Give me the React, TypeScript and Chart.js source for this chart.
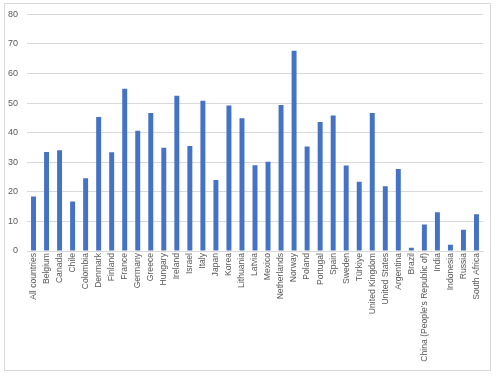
import React, { useEffect, useRef } from "react";
import { Chart, registerables } from "chart.js";

Chart.register(...registerables);

const categories = [
  "All countries", "Belgium", "Canada", "Chile", "Colombia", "Denmark", "Finland", "France",
  "Germany", "Greece", "Hungary", "Ireland", "Israel", "Italy", "Japan", "Korea", "Lithuania",
  "Latvia", "Mexico", "Netherlands", "Norway", "Poland", "Portugal", "Spain", "Sweden",
  "Türkiye", "United Kingdom", "United States", "Argentina", "Brazil",
  "China (People's Republic of)", "India", "Indonesia", "Russia", "South Africa",
];

const values = [
  18.4, 33.5, 34.1, 16.7, 24.6, 45.3, 33.4, 54.9,
  40.7, 46.7, 34.9, 52.5, 35.5, 50.8, 24.0, 49.2, 44.9,
  29.0, 30.2, 49.4, 67.7, 35.3, 43.6, 45.8, 28.9,
  23.4, 46.7, 21.9, 27.7, 1.1,
  9.0, 13.1, 2.1, 7.2, 12.4,
];

const yMin = 0;
const yMax = 80;
const yStep = 10;

export default function App() {
  const ref = useRef<HTMLCanvasElement | null>(null);

  useEffect(() => {
    document.body.style.margin = "0";
    const ctx = ref.current!;
    const chart = new Chart(ctx, {
      type: "bar",
      data: {
        labels: categories,
        datasets: [
          {
            data: values,
            backgroundColor: "#4472C4",
            barPercentage: 0.38,
            categoryPercentage: 1,
          },
        ],
      },
      options: {
        animation: false,
        responsive: false,
        maintainAspectRatio: false,
        layout: { padding: { top: 11, right: 14, left: 0, bottom: 0 } },
        plugins: { legend: { display: false }, tooltip: { enabled: false } },
        scales: {
          x: {
            grid: { display: false, drawTicks: false },
            border: { display: true, color: "#d9d9d9" },
            ticks: {
              autoSkip: false,
              maxRotation: 90,
              minRotation: 90,
              padding: 2,
              color: "#595959",
              font: { family: "Liberation Sans", size: 8.6 },
            },
            afterFit: (s: any) => {
              s.height = 125;
            },
          },
          y: {
            min: yMin,
            max: yMax,
            ticks: {
              stepSize: yStep,
              padding: 9,
              color: "#595959",
              font: { family: "Liberation Sans", size: 9 },
            },
            grid: { color: "#d9d9d9", drawTicks: false },
            border: { display: false },
            afterFit: (s: any) => {
              s.width = 27;
            },
          },
        },
      },
    });
    return () => chart.destroy();
  }, []);

  return (
    <div style={{ position: "fixed", left: 0, top: 0, width: 497, height: 376, background: "#fff" }}>
      <div
        style={{
          position: "absolute",
          left: 4,
          top: 3,
          width: 487,
          height: 368,
          border: "1px solid #d9d9d9",
          boxSizing: "border-box",
        }}
      />
      <canvas ref={ref} width={497} height={376} style={{ position: "absolute", left: 0, top: 0 }} />
    </div>
  );
}
